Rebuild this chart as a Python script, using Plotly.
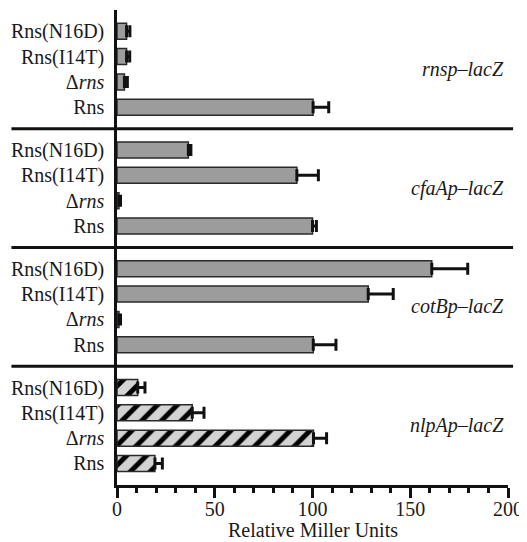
import plotly.graph_objects as go
from plotly.subplots import make_subplots

# Categories (top to bottom within each panel)
strains = ["Rns(N16D)", "Rns(I14T)", "Δ<i>rns</i>", "Rns"]
panels = ["rnsp–lacZ", "cfaAp–lacZ", "cotBp–lacZ", "nlpAp–lacZ"]

# Relative Miller Units (per panel, in strain order)
rnsp_vals = [4.9, 4.9, 3.8, 100.3]
rnsp_errs = [1.7, 1.6, 1.5, 8.0]
cfaAp_vals = [36.5, 92.0, 1.0, 100.0]
cfaAp_errs = [1.3, 11.0, 0.8, 2.0]
cotBp_vals = [161.0, 128.5, 1.0, 100.4]
cotBp_errs = [18.4, 12.8, 0.8, 11.6]
nlpAp_vals = [10.6, 38.5, 100.5, 19.4]
nlpAp_errs = [3.7, 6.0, 6.7, 3.8]

values = [rnsp_vals, cfaAp_vals, cotBp_vals, nlpAp_vals]
errors = [rnsp_errs, cfaAp_errs, cotBp_errs, nlpAp_errs]
hatched = [False, False, False, True]

xticks = [0, 50, 100, 150, 200]
x_title = "Relative Miller Units"

FONT = "Liberation Serif"
W, H = 519, 534
ML, MR, MT, MB = 109, 19, 2, 57
fig = make_subplots(rows=4, cols=1, shared_xaxes=True, vertical_spacing=0)

for i in range(4):
    if hatched[i]:
        marker = dict(color="#d3d3d3", line=dict(color="#2a2a2a", width=1.5),
                      pattern=dict(shape="/", fgcolor="#000000", bgcolor="#d3d3d3",
                                   size=14, solidity=0.36, fgopacity=1))
    else:
        marker = dict(color="#9c9c9c", line=dict(color="#2a2a2a", width=1.5))
    fig.add_trace(go.Bar(
        y=strains, x=values[i], orientation="h", width=0.63,
        marker=marker,
        error_x=dict(type="data", array=errors[i], arrayminus=[0] * 4,
                     symmetric=False, color="#111111", thickness=3, width=6),
        showlegend=False,
    ), row=i + 1, col=1)
    fig.update_yaxes(row=i + 1, col=1, type="category", automargin=False,
                     categoryorder="array", categoryarray=strains[::-1],
                     range=[-0.85, 3.84], showline=True, linecolor="#111111",
                     linewidth=2.5, showgrid=False, zeroline=False, ticks="",
                     ticklabelstandoff=6, tickfont=dict(family=FONT, size=20, color="#1a1a1a"))
    fig.update_xaxes(row=i + 1, col=1, range=[0, 200], showgrid=False, zeroline=False,
                     automargin=False)

for i in range(1, 4):
    fig.update_xaxes(row=i, col=1, showline=False, ticks="", showticklabels=False)

fig.update_xaxes(row=4, col=1, showline=True, linecolor="#111111", linewidth=2.5,
                 ticks="outside", ticklen=10, tickwidth=2.5, tickcolor="#111111",
                 tickvals=xticks, showticklabels=True, ticklabelstandoff=-6,
                 minor=dict(dtick=10, ticks="outside", ticklen=5, tickwidth=2.5,
                            tickcolor="#111111"),
                 tickfont=dict(family=FONT, size=20, color="#1a1a1a"))

# x-axis title
plot_h = H - MT - MB
fig.add_annotation(text=x_title, xref="paper", yref="paper", x=0.5, y=-45 / plot_h,
                   xanchor="center", yanchor="middle", showarrow=False,
                   font=dict(family=FONT, size=20, color="#1a1a1a"))

# Panel separators and labels
yaxes = [fig.layout.yaxis, fig.layout.yaxis2, fig.layout.yaxis3, fig.layout.yaxis4]
for i, ya in enumerate(yaxes):
    d0, d1 = ya.domain
    if i < 3:
        fig.add_shape(type="line", xref="paper", yref="paper",
                      x0=-0.27, x1=1.013, y0=d0, y1=d0,
                      line=dict(color="#111111", width=3))
    fig.add_annotation(text="<i>" + panels[i] + "</i>", xref="paper", yref="paper",
                       x=0.995, y=(d0 + d1) / 2, xanchor="right", yanchor="middle",
                       showarrow=False, font=dict(family=FONT, size=20, color="#1a1a1a"))

fig.update_layout(width=W, height=H, margin=dict(l=ML, r=MR, t=MT, b=MB),
                  font=dict(family=FONT),
                  plot_bgcolor="white", paper_bgcolor="white", bargap=0.3)

fig.write_html("out.html")
